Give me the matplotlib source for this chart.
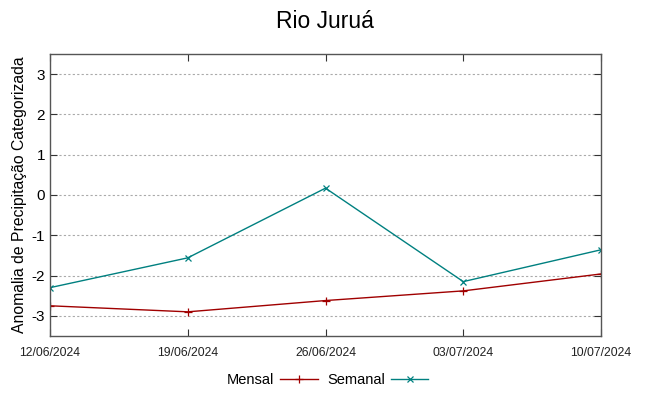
import matplotlib.pyplot as plt

plt.rcParams['font.family'] = ['Liberation Sans', 'DejaVu Sans']

dates = ["12/06/2024", "19/06/2024", "26/06/2024", "03/07/2024", "10/07/2024"]
mensal = [-2.75, -2.90, -2.62, -2.38, -1.96]
semanal = [-2.30, -1.56, 0.17, -2.15, -1.36]
yticks = [-3, -2, -1, 0, 1, 2, 3]

x = list(range(len(dates)))

fig = plt.figure(figsize=(6.49, 3.96), dpi=100)
ax = fig.add_axes([50 / 649, 60 / 396, 551 / 649, 282 / 396])

ax.plot(x, mensal, color="#a00000", lw=1.0, marker="+", ms=6, mew=0.9, label="Mensal")
ax.plot(x, semanal, color="#008080", lw=1.0, marker="x", ms=5, mew=0.9, label="Semanal")

ax.set_xlim(0, len(dates) - 1)
ax.set_ylim(-3.5, 3.5)
ax.set_xticks(x)
ax.set_xticklabels(dates, fontsize=8.8, color="#222222")
ax.set_yticks(yticks)
ax.set_yticklabels([str(v) for v in yticks], fontsize=11)
ax.tick_params(direction="in", top=True, right=True, length=5, width=0.8,
               color="#333333")
ax.tick_params(axis="x", pad=8)
ax.grid(True, axis="y", linestyle=(0, (2, 2)), color="#aaaaaa", lw=0.8)
for s in ax.spines.values():
    s.set_color("#555555")
    s.set_linewidth(1.0)

ax.set_ylabel("Anomalia de Precipitação Categorizada", fontsize=11.3, labelpad=3)
fig.suptitle("Rio Juruá", fontsize=16.5, y=0.975)

fig.legend(loc="lower center", bbox_to_anchor=(0.505, -0.01), ncol=2, frameon=False,
           markerfirst=False, fontsize=10.5, handlelength=2.6, columnspacing=0.6,
           handletextpad=0.4)

fig.savefig("out.png", dpi=100)
